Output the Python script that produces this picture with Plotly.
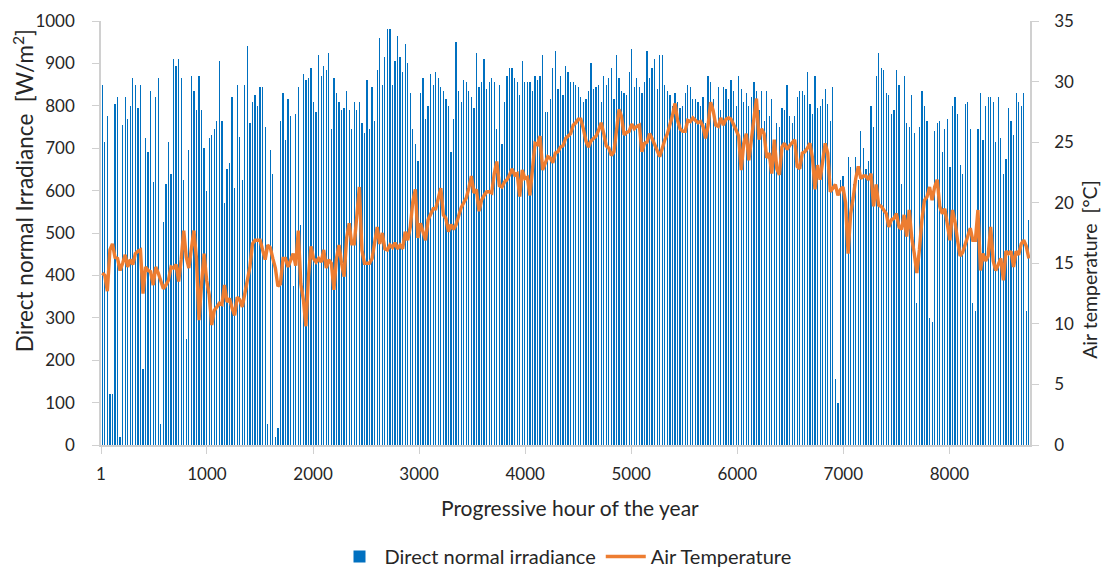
import numpy as np
import plotly.graph_objects as go

# Daily peak of direct normal irradiance [W/m2], one value per day (365 days)
dni_peak = [
    850,715,775,120,120,805,820,20,755,820,
    770,800,865,850,795,850,180,725,690,835,
    620,820,865,50,525,615,715,640,910,895,
    910,865,625,250,695,870,835,790,870,790,
    700,600,725,730,745,765,905,765,570,650,
    665,820,605,850,727,625,850,940,760,810,
    825,800,845,845,750,50,695,640,20,40,
    765,830,720,815,775,375,780,845,520,875,
    860,865,890,810,785,920,870,895,885,925,
    745,865,830,810,790,795,835,790,745,810,
    790,810,760,735,860,745,845,765,885,960,
    850,915,980,980,850,905,965,915,880,945,
    900,830,
    745,710,670,830,865,770,800,875,850,880,
    865,845,835,815,800,690,770,950,835,810,
    860,855,835,820,795,925,845,855,910,840,
    855,865,855,745,850,710,810,870,890,890,
    865,855,825,905,855,855,855,835,870,860,
    870,920,785,785,815,890,930,840,870,825,
    895,880,855,855,850,845,820,810,815,835,
    900,840,845,850,810,870,850,865,890,815,
    920,865,835,830,825,880,935,845,865,845,
    830,855,930,865,890,910,840,920,920,850,
    835,825,800,830,810,795,800,830,850,845,
    815,815,810,800,820,760,870,855,815,760,
    845,
    790,845,840,815,860,835,800,870,840,810,
    830,800,820,855,835,790,835,765,835,775,
    815,720,760,750,795,790,850,775,760,775,
    820,835,835,825,880,805,780,870,795,800,
    815,840,805,765,845,155,100,625,635,520,
    680,655,615,680,625,740,700,650,670,800,
    750,
    870,925,890,885,830,825,780,790,885,850,
    615,870,760,750,825,735,335,750,835,800,
    765,300,290,740,760,765,690,745,770,655,
    800,820,780,660,640,805,810,745,335,315,
    745,830,720,800,820,820,810,715,820,725,
    640,675,795,765,730,830,810,800,830,315,
    530,
]

# Air temperature [degC], one reading per day (at mid-day)
air_temp = [
    14.2,14.0,12.7,16.1,16.6,15.5,15.4,14.4,15.0,15.7,
    14.7,15.3,14.9,15.8,16.0,16.1,12.5,14.7,14.4,14.3,
    13.2,14.7,14.2,13.5,12.9,13.2,13.6,14.7,14.6,14.9,
    13.5,15.3,17.7,15.5,14.6,16.2,17.7,15.4,10.3,13.3,
    15.8,13.6,12.4,9.9,11.1,11.4,11.7,11.6,13.2,11.8,
    12.1,11.3,10.7,12.2,12.0,11.4,12.5,13.6,14.7,16.6,
    16.9,16.9,16.9,16.1,15.3,16.5,16.3,15.4,14.6,13.1,
    13.3,15.4,15.4,14.7,15.3,15.8,14.8,17.7,13.3,12.0,
    9.8,13.9,16.4,15.4,15.1,15.4,15.1,16.1,14.6,15.3,
    15.0,12.8,15.4,16.5,15.0,13.9,17.1,18.3,16.6,16.6,
    18.9,21.3,16.1,15.0,15.0,15.0,15.4,16.9,18.0,16.6,
    17.5,16.2,16.1,16.5,16.3,16.7,16.2,16.5,16.2,17.6,
    16.9,18.0,
    20.1,21.1,17.1,18.3,17.6,16.9,18.6,19.1,19.5,19.5,
    20.4,21.2,19.0,18.7,17.6,18.2,17.8,18.2,18.9,19.6,
    20.0,20.4,21.2,22.2,20.8,21.1,19.3,20.2,20.6,20.9,
    20.9,20.8,22.4,23.4,21.4,21.3,21.7,21.9,22.3,22.8,
    22.3,22.4,20.5,22.7,22.0,22.1,20.6,22.7,24.9,24.8,
    25.5,22.7,23.3,23.8,23.7,23.3,24.1,24.2,24.6,24.7,
    25.3,25.5,25.7,26.4,26.6,26.9,26.9,26.1,25.1,24.6,
    25.1,25.3,25.5,26.0,26.6,25.7,24.7,24.5,23.9,24.2,
    26.1,27.7,27.1,25.6,25.8,25.9,26.5,26.1,26.3,26.4,
    24.2,24.9,25.0,25.7,25.3,24.7,24.3,23.8,24.6,25.2,
    25.7,26.4,27.2,28.2,26.8,26.1,25.9,25.9,26.8,26.7,
    27.0,26.8,26.6,26.7,26.3,25.3,26.4,28.3,27.6,26.4,
    26.3,
    27.0,26.4,26.9,27.0,26.9,26.5,26.0,25.5,22.7,24.9,
    25.7,23.5,25.3,27.1,28.6,25.2,26.1,25.7,23.7,24.1,
    22.4,25.2,22.8,22.3,24.6,24.9,24.4,24.7,25.0,25.2,
    23.0,22.8,24.1,24.2,24.5,24.9,23.7,21.1,23.1,21.9,
    23.4,24.9,24.1,20.9,21.2,21.5,20.6,21.1,21.3,20.0,
    15.8,19.1,20.4,22.0,23.0,22.0,22.2,22.2,21.9,22.4,
    19.7,
    21.5,19.8,19.7,19.4,19.1,18.0,18.6,18.7,19.1,18.0,
    17.8,19.0,17.2,19.4,17.1,15.8,14.2,16.1,18.6,20.2,
    20.5,21.3,20.2,21.3,21.9,19.7,19.1,19.5,18.2,16.9,
    19.4,18.4,16.9,15.6,15.9,16.5,17.3,17.9,16.9,16.9,
    19.4,14.4,15.8,15.2,15.6,18.0,15.2,14.4,14.9,15.4,
    13.6,16.0,15.8,16.0,14.7,16.0,15.7,16.6,16.9,16.4,
    15.4,
]

x_tickvals = [1, 1000, 2000, 3000, 4000, 5000, 6000, 7000, 8000]
x_ticktext = ["1", "1000", "2000", "3000", "4000", "5000", "6000", "7000", "8000"]

x_title = "Progressive hour of the year"
y_title = "Direct normal Irradiance \u00a0[W/m<sup>2</sup>]"
y2_title = "Air temperature \u00a0[°C]"

n_days = len(dni_peak)
hours = np.arange(n_days) * 24 + 13  # mid-day hour of each day

FONT = "Lato, Calibri, Arial, sans-serif"
TXT = "#262626"
GRID = "#d0d0d0"

fig = go.Figure()
fig.add_trace(go.Bar(
    x=hours, y=dni_peak, width=2,
    marker=dict(color="#0070C0", line=dict(width=0)),
    name="Direct normal irradiance", yaxis="y",
))
fig.add_trace(go.Scatter(
    x=hours, y=air_temp[:n_days], mode="lines",
    line=dict(color="#ED7D31", width=3.4),
    name="Air Temperature", yaxis="y2",
))

axis_common = dict(
    showline=True, linecolor=GRID, linewidth=1.5,
    ticks="outside", ticklen=7, tickcolor=GRID, showgrid=False, zeroline=False,
    tickfont=dict(size=17, color=TXT), automargin=False,
)

fig.update_layout(
    width=1101, height=569,
    margin=dict(l=101, r=71, t=21, b=124),
    paper_bgcolor="white", plot_bgcolor="white",
    font=dict(family=FONT, size=17, color=TXT),
    bargap=0,
    showlegend=True,
    legend=dict(orientation="h", x=0.5, xanchor="center", xref="paper",
                y=0.022, yref="container", yanchor="middle",
                font=dict(size=20, color=TXT), itemwidth=40, traceorder="normal"),
    xaxis=dict(range=[1, 8760], tickvals=x_tickvals, ticktext=x_ticktext,
               ticklabelstandoff=6, **axis_common),
    yaxis=dict(range=[0, 1000], dtick=100, tick0=0, ticklabelstandoff=14, **axis_common),
    yaxis2=dict(range=[0, 35], dtick=5, tick0=0, overlaying="y", side="right",
                ticklabelstandoff=12, **axis_common),
    annotations=[
        dict(text=x_title, xref="paper", yref="paper", x=0.505, y=-0.147,
             xanchor="center", yanchor="middle", showarrow=False,
             font=dict(size=21, color=TXT)),
        dict(text=y_title, xref="paper", yref="paper", x=-0.084, y=0.601,
             xanchor="center", yanchor="middle", textangle=-90, showarrow=False,
             font=dict(size=22.5, color=TXT)),
        dict(text=y2_title, xref="paper", yref="paper", x=1.0645, y=0.413,
             xanchor="center", yanchor="middle", textangle=-90, showarrow=False,
             font=dict(size=19.5, color=TXT)),
    ],
)

fig.write_html("out.html")
